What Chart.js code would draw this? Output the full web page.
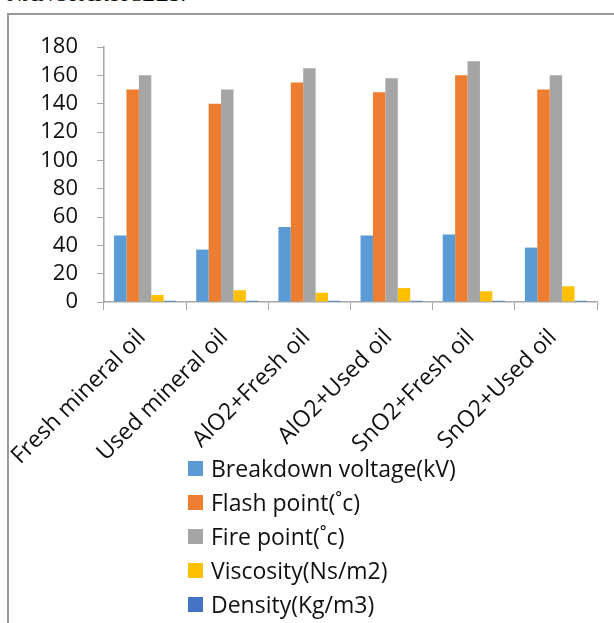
<!DOCTYPE html>
<html>
<head>
<meta charset="utf-8">
<script src="https://cdn.jsdelivr.net/npm/chart.js@4.4.1/dist/chart.umd.min.js"></script>
<style>
  html, body { margin: 0; padding: 0; background: #fff; }
  body { width: 614px; height: 623px; position: relative; overflow: hidden; }
  #heading {
    position: absolute; left: 7px; top: -18px;
    font-family: "Liberation Serif", "DejaVu Serif", serif;
    font-size: 21.5px; color: #000; white-space: nowrap;
  }
  #frame {
    position: absolute; left: 7px; top: 13px; width: 700px; height: 700px;
    border-left: 2px solid #9a9a9a; border-top: 2px solid #9a9a9a;
  }
  #wrap { position: absolute; left: 0; top: 0; width: 614px; height: 623px; }
  #legend {
    position: absolute; left: 188px; top: 451px;
    font-family: "Open Sans", sans-serif; font-size: 23px; color: #111;
  }
  #legend .item { height: 34px; display: flex; align-items: center; white-space: nowrap; }
  #legend .box { width: 15px; height: 15px; margin-right: 8px; flex: none; }
</style>
</head>
<body>
<div id="heading">NANOPARTICLES.</div>
<div id="frame"></div>
<div id="wrap"><canvas id="chart" width="614" height="623"></canvas></div>
<div id="legend"></div>
<script>
// Oil samples on the category axis
const categories = [
  "Fresh mineral oil", "Used mineral oil", "AlO2+Fresh oil",
  "AlO2+Used oil", "SnO2+Fresh oil", "SnO2+Used oil"
];

// Measured properties per sample
const breakdownVoltage = [47, 37, 53, 47, 47.6, 38.4];
const flashPoint       = [150, 140, 155, 148, 160, 150];
const firePoint        = [160, 150, 165, 158, 170, 160];
const viscosity        = [5, 8.3, 6.5, 9.8, 7.6, 11.1];
const density          = [0.88, 0.88, 0.88, 0.88, 0.88, 0.88];

const seriesNames = [
  "Breakdown voltage(kV)", "Flash point(\u02DAc)", "Fire point(\u02DAc)",
  "Viscosity(Ns/m2)", "Density(Kg/m3)"
];
const seriesColors = ["#5B9BD5", "#ED7D31", "#A5A5A5", "#FFC000", "#4472C4"];

// Value axis ticks
const yTicks = [0, 20, 40, 60, 80, 100, 120, 140, 160, 180];

const seriesValues = [breakdownVoltage, flashPoint, firePoint, viscosity, density];

const axisGray = "#a6a6a6";

const chart = new Chart(document.getElementById("chart"), {
  type: "bar",
  data: {
    labels: categories,
    datasets: seriesNames.map((name, i) => ({
      label: name,
      data: seriesValues[i],
      backgroundColor: seriesColors[i],
      borderWidth: 0,
      barPercentage: 1,
      categoryPercentage: 0.755
    }))
  },
  options: {
    responsive: false,
    animation: false,
    layout: { padding: { left: 0, top: 47, right: 17, bottom: 0 } },
    plugins: { legend: { display: false }, tooltip: { enabled: false } },
    scales: {
      x: {
        grid: { display: true, drawOnChartArea: false, drawTicks: true, tickLength: 8, color: axisGray, offset: true },
        border: { color: axisGray, width: 1.5 },
        ticks: {
          color: "#111", font: { family: "Open Sans", size: 23 },
          minRotation: 45, maxRotation: 45, padding: 14, labelOffset: -3, autoSkip: false
        },
        afterFit: s => {
          s.height = 623 - 302;
          // slanted labels may run past the plot's left edge without moving it
          s.paddingLeft = 0;
          s.paddingRight = 0;
        }
      },
      y: {
        min: 0, max: yTicks[yTicks.length - 1],
        afterBuildTicks: s => { s.ticks = yTicks.map(v => ({ value: v })); },
        grid: { display: true, drawOnChartArea: false, drawTicks: true, tickLength: 7, color: axisGray },
        border: { color: axisGray, width: 1.5 },
        ticks: { color: "#111", font: { family: "Open Sans", size: 22 }, padding: 19, autoSkip: false },
        afterFit: s => { s.width = 104; }
      }
    }
  }
});

// Series key listed as a single column under the axis
const legend = document.getElementById("legend");
chart.data.datasets.forEach(ds => {
  const row = document.createElement("div");
  row.className = "item";
  const box = document.createElement("span");
  box.className = "box";
  box.style.background = ds.backgroundColor;
  const txt = document.createElement("span");
  txt.textContent = ds.label;
  row.appendChild(box);
  row.appendChild(txt);
  legend.appendChild(row);
});
</script>
</body>
</html>
